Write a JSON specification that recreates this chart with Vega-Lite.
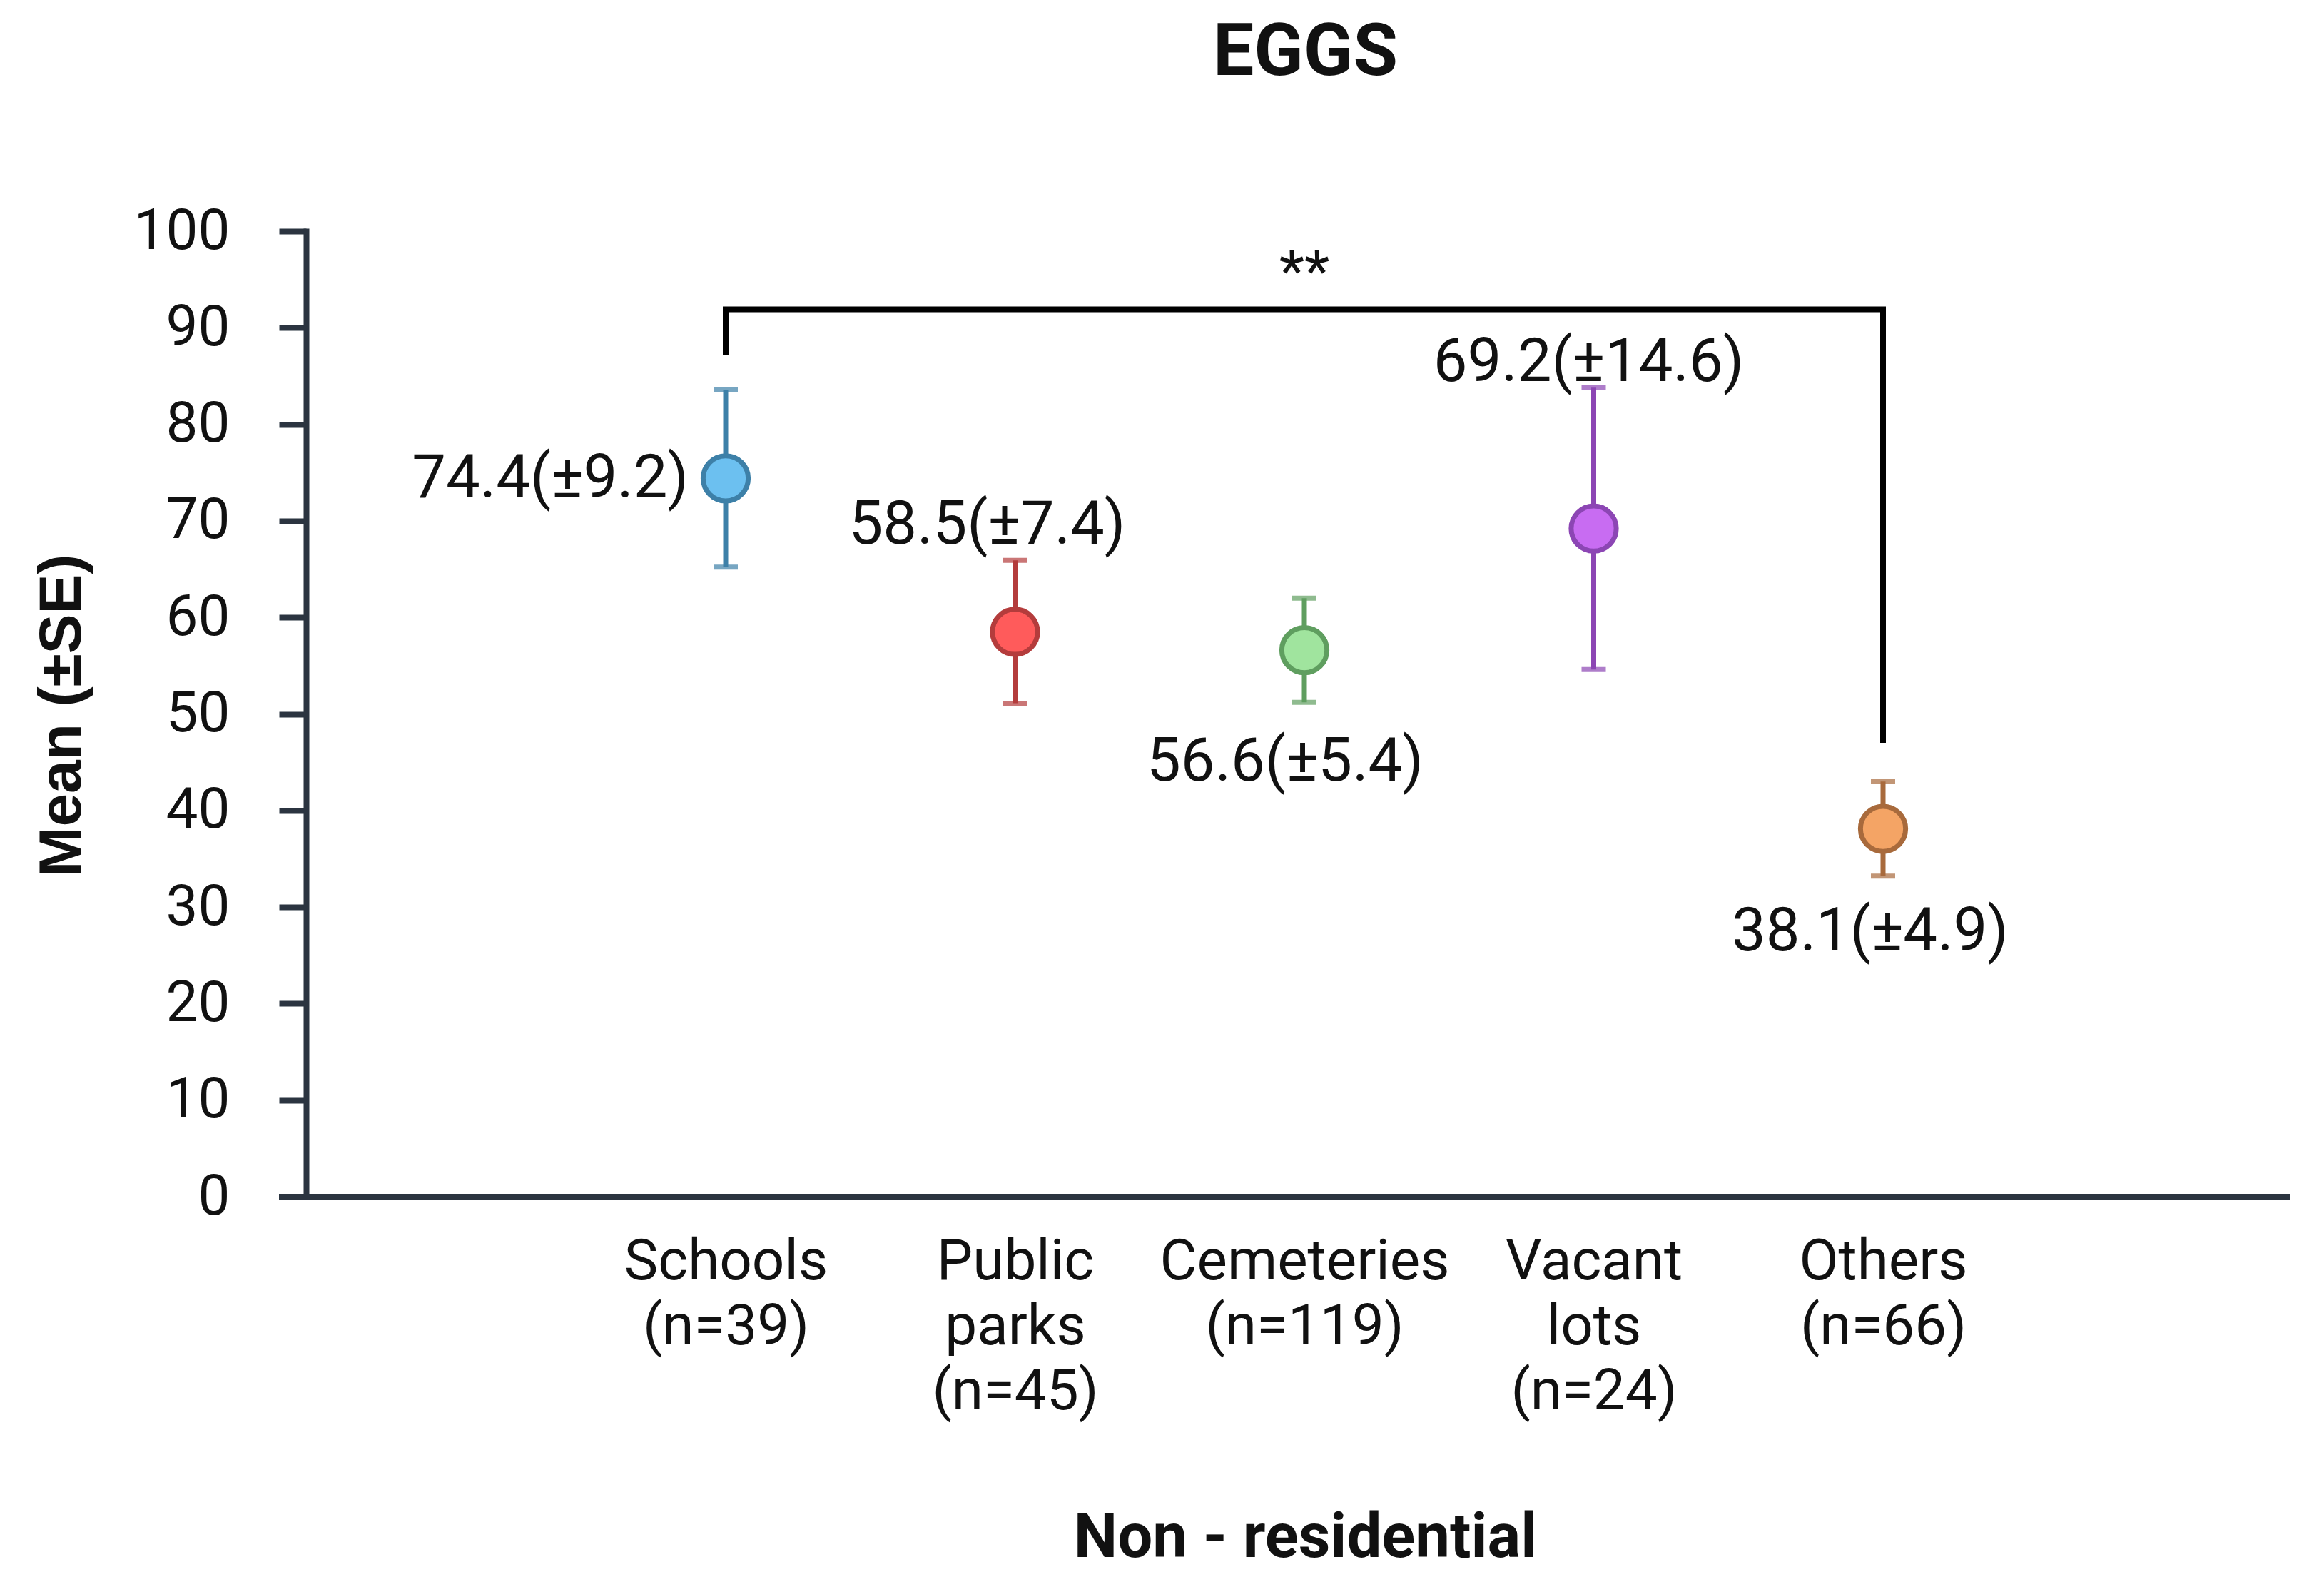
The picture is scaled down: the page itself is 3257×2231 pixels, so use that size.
{
  "$schema": "https://vega.github.io/schema/vega-lite/v6.json",
  "width": 2819,
  "height": 1353,
  "autosize": {"type": "none"},
  "padding": {"left": 391, "top": 324, "right": 47, "bottom": 554},
  "background": "white",
  "title": {"text": "EGGS", "font": "Roboto", "fontSize": 102, "fontWeight": "bold", "color": "#111111", "anchor": "middle", "frame": "group", "dx": 29, "baseline": "alphabetic", "offset": 77},
  "data": {"values": [
    {"site": "Schools (n=39)", "mean": 74.4, "se": 9.2, "lo": 65.2, "hi": 83.6, "label": "74.4(±9.2)"},
    {"site": "Public parks (n=45)", "mean": 58.5, "se": 7.4, "lo": 51.1, "hi": 65.9, "label": "58.5(±7.4)"},
    {"site": "Cemeteries (n=119)", "mean": 56.6, "se": 5.4, "lo": 51.2, "hi": 62.0, "label": "56.6(±5.4)"},
    {"site": "Vacant lots (n=24)", "mean": 69.2, "se": 14.6, "lo": 54.6, "hi": 83.8, "label": "69.2(±14.6)"},
    {"site": "Others (n=66)", "mean": 38.1, "se": 4.9, "lo": 33.2, "hi": 43.0, "label": "38.1(±4.9)"}
  ]},
  "layer": [
    {
      "mark": {"type": "rule", "strokeWidth": 7},
      "encoding": {
        "x": {"field": "site", "type": "nominal",
          "scale": {"type": "point", "domain": ["Schools (n=39)", "Public parks (n=45)", "Cemeteries (n=119)", "Vacant lots (n=24)", "Others (n=66)"], "range": [626, 2248], "padding": 0},
          "axis": {"title": "Non - residential", "labelExpr": "split(datum.label, ' ')", "labelFont": "Roboto", "labelFontSize": 80, "labelColor": "#111111", "labelLineHeight": 91, "labelPadding": 52, "labelAngle": 0, "labelBaseline": "top", "labelOverlap": false, "labelLimit": 2000, "ticks": false, "tickSize": 0, "domain": false, "grid": false, "titleFont": "Roboto", "titleFontSize": 87, "titleFontWeight": "bold", "titleColor": "#111111", "titleX": 1438, "titleY": 504, "titleBaseline": "alphabetic", "titleAlign": "center", "titleAnchor": null}},
        "y": {"field": "lo", "type": "quantitative",
          "scale": {"domain": [0, 100], "nice": false, "zero": true},
          "axis": {"title": "Mean (±SE)", "values": [0, 10, 20, 30, 40, 50, 60, 70, 80, 90, 100], "offset": -38, "tickSize": 38, "tickWidth": 8, "tickColor": "#2b3440", "domainColor": "#2b3440", "domainWidth": 8, "domainCap": "square", "labelFont": "Roboto", "labelFontSize": 80, "labelColor": "#111111", "labelPadding": 69, "grid": false, "titleFont": "Liberation Sans", "titleFontSize": 84, "titleFontWeight": "bold", "titleColor": "#111111", "titleX": -317, "titleY": 678, "titleAngle": 270, "titleBaseline": "alphabetic", "titleAlign": "center"}},
        "y2": {"field": "hi"},
        "color": {"field": "site", "type": "nominal", "legend": null,
          "scale": {"domain": ["Schools (n=39)", "Public parks (n=45)", "Cemeteries (n=119)", "Vacant lots (n=24)", "Others (n=66)"], "range": ["#3d80a8", "#b43c3c", "#5f9e5f", "#8c46b4", "#a86a3c"]}}
      }
    },
    {
      "mark": {"type": "tick", "size": 34, "thickness": 7, "orient": "horizontal"},
      "encoding": {
        "x": {"field": "site", "type": "nominal"},
        "y": {"field": "lo", "type": "quantitative"},
        "color": {"field": "site", "type": "nominal", "legend": null}
      }
    },
    {
      "mark": {"type": "tick", "size": 34, "thickness": 7, "orient": "horizontal"},
      "encoding": {
        "x": {"field": "site", "type": "nominal"},
        "y": {"field": "hi", "type": "quantitative"},
        "color": {"field": "site", "type": "nominal", "legend": null}
      }
    },
    {
      "mark": {"type": "circle", "size": 4000, "strokeWidth": 7, "opacity": 1, "fillOpacity": 1},
      "encoding": {
        "x": {"field": "site", "type": "nominal"},
        "y": {"field": "mean", "type": "quantitative"},
        "fill": {"field": "site", "type": "nominal", "legend": null,
          "scale": {"domain": ["Schools (n=39)", "Public parks (n=45)", "Cemeteries (n=119)", "Vacant lots (n=24)", "Others (n=66)"], "range": ["#6cc0f0", "#ff5b5b", "#a0e49e", "#c86cf2", "#f4a465"]}},
        "stroke": {"field": "site", "type": "nominal", "legend": null,
          "scale": {"domain": ["Schools (n=39)", "Public parks (n=45)", "Cemeteries (n=119)", "Vacant lots (n=24)", "Others (n=66)"], "range": ["#3d80a8", "#b43c3c", "#5f9e5f", "#8c46b4", "#a86a3c"]}}
      }
    },
    {
      "mark": {"type": "rule", "strokeWidth": 8, "color": "#2b3440"},
      "data": {"values": [{"base": 0}]},
      "encoding": {"y": {"field": "base", "type": "quantitative"}}
    },
    {
      "transform": [{"filter": {"field": "site", "equal": "Schools (n=39)"}}],
      "mark": {"type": "text", "font": "Roboto", "fontSize": 85, "color": "#111111", "align": "right", "baseline": "alphabetic", "dx": -52, "dy": 27},
      "encoding": {"x": {"field": "site", "type": "nominal"}, "y": {"field": "mean", "type": "quantitative"}, "text": {"field": "label"}}
    },
    {
      "transform": [{"filter": {"field": "site", "equal": "Public parks (n=45)"}}],
      "mark": {"type": "text", "font": "Roboto", "fontSize": 85, "color": "#111111", "align": "center", "baseline": "alphabetic", "dx": -39, "dy": -123},
      "encoding": {"x": {"field": "site", "type": "nominal"}, "y": {"field": "mean", "type": "quantitative"}, "text": {"field": "label"}}
    },
    {
      "transform": [{"filter": {"field": "site", "equal": "Cemeteries (n=119)"}}],
      "mark": {"type": "text", "font": "Roboto", "fontSize": 85, "color": "#111111", "align": "center", "baseline": "alphabetic", "dx": -27, "dy": 183},
      "encoding": {"x": {"field": "site", "type": "nominal"}, "y": {"field": "mean", "type": "quantitative"}, "text": {"field": "label"}}
    },
    {
      "transform": [{"filter": {"field": "site", "equal": "Vacant lots (n=24)"}}],
      "mark": {"type": "text", "font": "Roboto", "fontSize": 85, "color": "#111111", "align": "center", "baseline": "alphabetic", "dx": -7, "dy": -207},
      "encoding": {"x": {"field": "site", "type": "nominal"}, "y": {"field": "mean", "type": "quantitative"}, "text": {"field": "label"}}
    },
    {
      "transform": [{"filter": {"field": "site", "equal": "Others (n=66)"}}],
      "mark": {"type": "text", "font": "Roboto", "fontSize": 85, "color": "#111111", "align": "center", "baseline": "alphabetic", "dx": -18, "dy": 170},
      "encoding": {"x": {"field": "site", "type": "nominal"}, "y": {"field": "mean", "type": "quantitative"}, "text": {"field": "label"}}
    },
    {
      "data": {"values": [
        {"site": "Schools (n=39)", "y": 87.2, "ord": 1},
        {"site": "Schools (n=39)", "y": 91.9, "ord": 2},
        {"site": "Others (n=66)", "y": 91.9, "ord": 3},
        {"site": "Others (n=66)", "y": 47.0, "ord": 4}
      ]},
      "mark": {"type": "line", "color": "#000000", "strokeWidth": 8, "strokeJoin": "miter", "strokeCap": "butt"},
      "encoding": {
        "x": {"field": "site", "type": "nominal"},
        "y": {"field": "y", "type": "quantitative"},
        "order": {"field": "ord", "type": "quantitative"}
      }
    },
    {
      "data": {"values": [{"site": "Cemeteries (n=119)", "y": 91.9, "sig": "**"}]},
      "mark": {"type": "text", "font": "Roboto", "fontSize": 82, "color": "#111111", "align": "center", "baseline": "alphabetic", "dy": -26},
      "encoding": {
        "x": {"field": "site", "type": "nominal"},
        "y": {"field": "y", "type": "quantitative"},
        "text": {"field": "sig"}
      }
    }
  ],
  "config": {
    "view": {"stroke": null},
    "axis": {"grid": false}
  }
}
